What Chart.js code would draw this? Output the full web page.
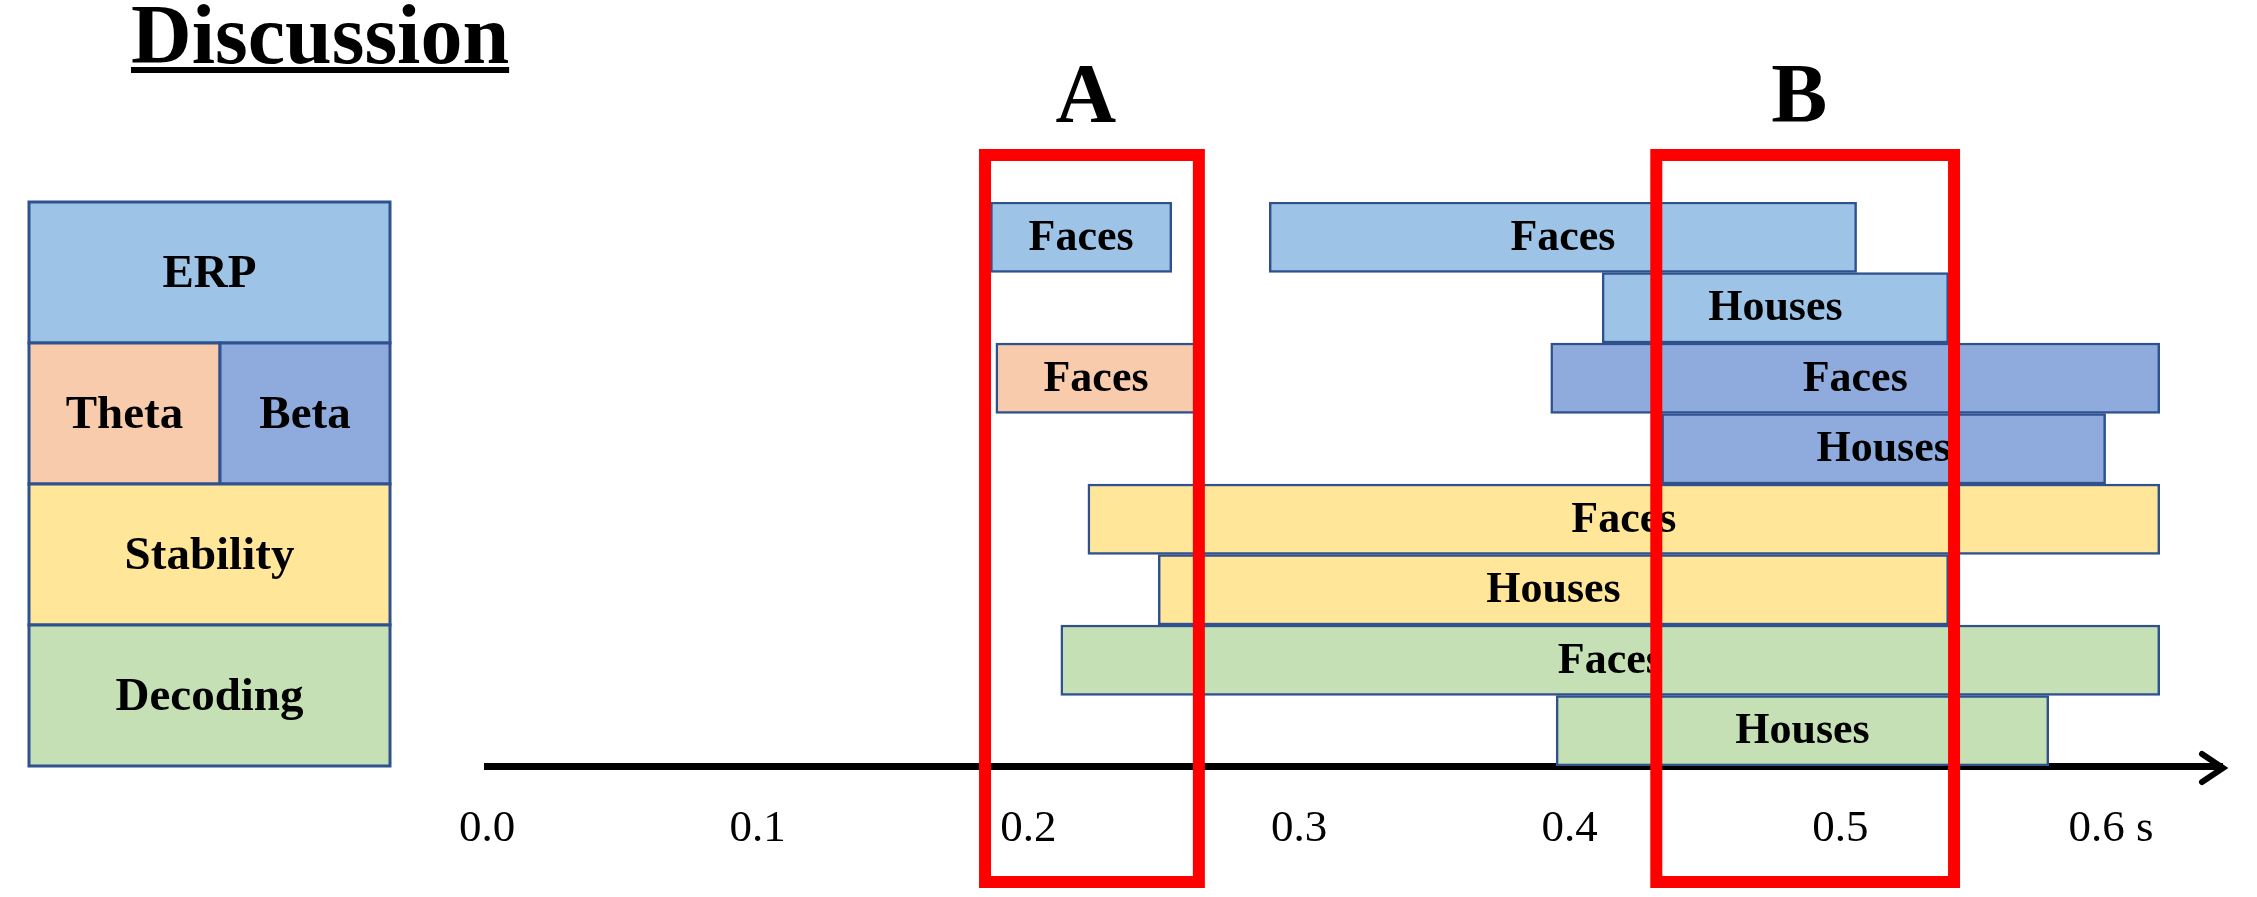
<!DOCTYPE html>
<html>
<head>
<meta charset="utf-8">
<script src="https://cdn.jsdelivr.net/npm/chart.js@4.4.1/dist/chart.umd.min.js"></script>
<style>
  html, body { margin: 0; padding: 0; background: #fff; }
</style>
</head>
<body>
<canvas id="chart" width="2257" height="897"></canvas>
<script>
// rows of the timeline, top to bottom
const rows = ["ERP Faces", "ERP Houses", "Theta/Beta Faces", "Beta Houses",
  "Stability Faces", "Stability Houses", "Decoding Faces", "Decoding Houses"];
const barText = ["Faces", "Houses", "Faces", "Houses", "Faces", "Houses", "Faces", "Houses"];

// significant windows in seconds [start, end], null = no bar in that row
const erpEarly  = [[0.186, 0.253], null, null, null, null, null, null, null];
const erpLate   = [[0.289, 0.506], [0.412, 0.540], null, null, null, null, null, null];
const theta     = [null, null, [0.188, 0.262], null, null, null, null, null];
const beta      = [null, null, [0.393, 0.618], [0.434, 0.598], null, null, null, null];
const stability = [null, null, null, null, [0.222, 0.618], [0.248, 0.540], null, null];
const decoding  = [null, null, null, null, null, null, [0.212, 0.618], [0.395, 0.577]];

const tickValues = [0, 0.1, 0.2, 0.3, 0.4, 0.5, 0.6];

// highlighted windows A and B
const highlightNames = ["A", "B"];
const highlightRanges = [[0.184, 0.263], [0.432, 0.542]];

// left-hand key: name and rows it spans
const groupNames = ["ERP", "Theta", "Beta", "Stability", "Decoding"];
const groupRows = [[0, 1], [2, 3], [2, 3], [4, 5], [6, 7]];

const titleText = "Discussion";

const COLORS = {
  ERP: "#9DC3E6",
  Theta: "#F8CBAD",
  Beta: "#8FAADC",
  Stability: "#FFE699",
  Decoding: "#C5E0B4",
};
const EDGE = "#2F528F";
const FONT = "'Liberation Serif', 'Times New Roman', serif";

Chart.defaults.font.family = FONT;

function barSet(label, data, color) {
  return {
    label: label,
    data: data,
    backgroundColor: color,
    borderColor: EDGE,
    borderWidth: 2.5,
    borderSkipped: false,
    grouped: false,
    barPercentage: 1,
    categoryPercentage: 1,
  };
}

// "Faces" / "Houses" written in the middle of each bar
const barLabels = {
  id: "barLabels",
  afterDatasetsDraw(chart) {
    const ctx = chart.ctx;
    ctx.save();
    ctx.font = "bold 44px " + FONT;
    ctx.fillStyle = "#000";
    ctx.textAlign = "center";
    ctx.textBaseline = "middle";
    chart.data.datasets.forEach((ds, i) => {
      chart.getDatasetMeta(i).data.forEach((bar, j) => {
        if (!ds.data[j]) return;
        ctx.fillText(barText[j], (bar.x + bar.base) / 2, bar.y + 1);
      });
    });
    ctx.restore();
  },
};

const decorations = {
  id: "decorations",
  afterDraw(chart) {
    const {ctx, chartArea, scales: {x, y}} = chart;
    const step = y.getPixelForValue(1) - y.getPixelForValue(0);
    ctx.save();

    // title, underlined
    ctx.fillStyle = "#000";
    ctx.font = "bold 84px " + FONT;
    ctx.textAlign = "left";
    ctx.textBaseline = "alphabetic";
    ctx.fillText(titleText, 131, 63);
    ctx.fillRect(131, 67, ctx.measureText(titleText).width, 6);

    // key on the left
    const cols = {ERP: [29, 390], Theta: [29, 220], Beta: [220, 390], Stability: [29, 390], Decoding: [29, 390]};
    groupNames.forEach((name, i) => {
      const top = y.getPixelForValue(groupRows[i][0]) - step / 2;
      const bottom = y.getPixelForValue(groupRows[i][1]) + step / 2;
      const [l, r] = cols[name];
      ctx.fillStyle = COLORS[name];
      ctx.fillRect(l, top, r - l, bottom - top);
      ctx.strokeStyle = EDGE;
      ctx.lineWidth = 3;
      ctx.strokeRect(l, top, r - l, bottom - top);
      ctx.fillStyle = "#000";
      ctx.font = "bold 47px " + FONT;
      ctx.textAlign = "center";
      ctx.textBaseline = "middle";
      ctx.fillText(name, (l + r) / 2, (top + bottom) / 2 + 2);
    });

    // arrow head on the time axis
    const ay = chartArea.bottom + 2;
    ctx.strokeStyle = "#000";
    ctx.lineWidth = 6;
    ctx.lineCap = "round";
    ctx.beginPath();
    ctx.moveTo(chartArea.right - 20, ay - 14);
    ctx.lineTo(chartArea.right + 1, ay);
    ctx.lineTo(chartArea.right - 20, ay + 14);
    ctx.stroke();

    // red boxes A and B
    ctx.strokeStyle = "#FF0000";
    ctx.lineWidth = 12;
    ctx.lineCap = "butt";
    ctx.lineJoin = "miter";
    const top = chartArea.top - 47;
    const bottom = chartArea.bottom + 116;
    highlightRanges.forEach((rng, i) => {
      const l = x.getPixelForValue(rng[0]);
      const r = x.getPixelForValue(rng[1]);
      ctx.strokeRect(l, top, r - l, bottom - top);
      ctx.fillStyle = "#000";
      ctx.font = "bold 84px " + FONT;
      ctx.textAlign = "center";
      ctx.textBaseline = "alphabetic";
      ctx.fillText(highlightNames[i], (l + r) / 2 - 6, 122);
    });
    ctx.restore();
  },
};

new Chart(document.getElementById("chart"), {
  type: "bar",
  data: {
    labels: rows,
    datasets: [
      barSet("ERP early", erpEarly, COLORS.ERP),
      barSet("ERP", erpLate, COLORS.ERP),
      barSet("Theta", theta, COLORS.Theta),
      barSet("Beta", beta, COLORS.Beta),
      barSet("Stability", stability, COLORS.Stability),
      barSet("Decoding", decoding, COLORS.Decoding),
    ],
  },
  options: {
    indexAxis: "y",
    responsive: false,
    animation: false,
    layout: {padding: {top: 202, left: 487, right: 35, bottom: 5}},
    scales: {
      x: {
        type: "linear",
        min: 0,
        max: 0.641,
        afterBuildTicks: (scale) => {
          scale.ticks = tickValues.map((v) => ({value: v}));
        },
        grid: {display: false, drawTicks: false},
        border: {display: true, color: "#000", width: 7},
        ticks: {
          color: "#000",
          padding: 36,
          maxRotation: 0,
          autoSkip: false,
          font: {size: 45, family: FONT},
          callback: (v) => (v === 0.6 ? "0.6 s" : v.toFixed(1)),
        },
      },
      y: {
        type: "category",
        display: false,
        offset: true,
        grid: {display: false},
      },
    },
    plugins: {
      legend: {display: false},
      title: {display: false},
      tooltip: {enabled: false},
    },
  },
  plugins: [barLabels, decorations],
});
</script>
</body>
</html>
